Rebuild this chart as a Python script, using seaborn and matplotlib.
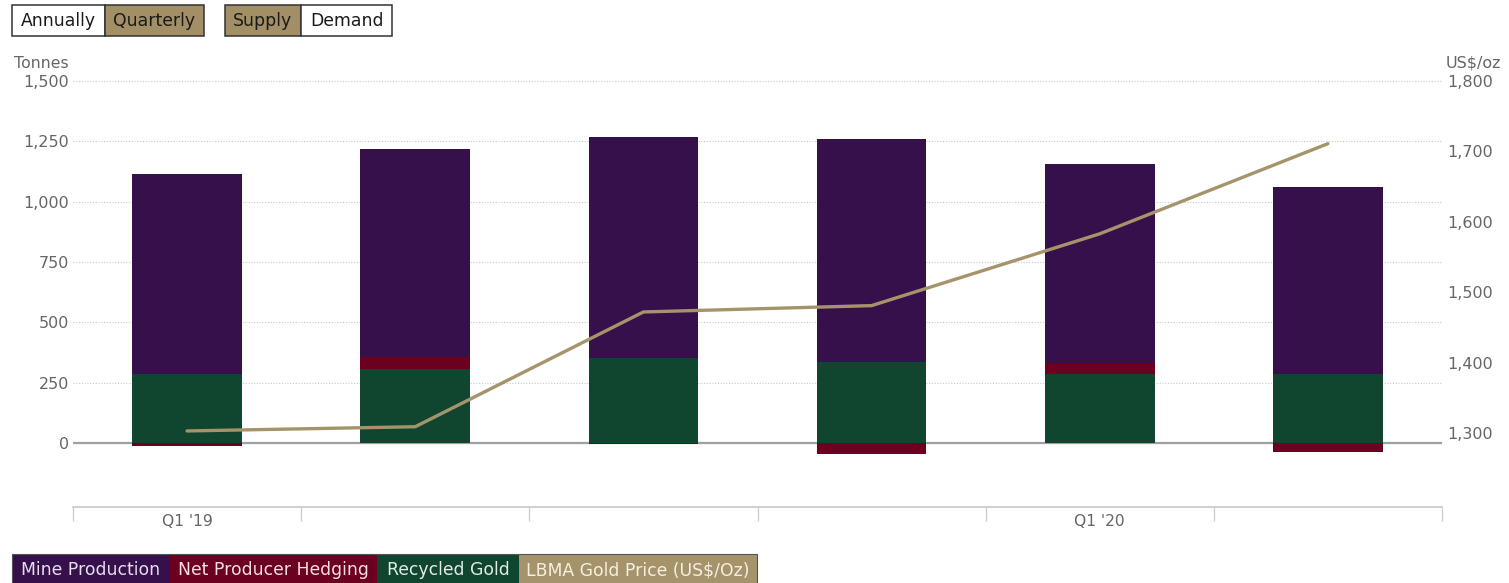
import numpy as np
import pandas as pd
import matplotlib
matplotlib.use("Agg")
import matplotlib.pyplot as plt
from matplotlib.patches import Rectangle
from matplotlib.transforms import Affine2D
from matplotlib.ticker import FixedLocator, FuncFormatter
import seaborn as sns

# Quarterly gold supply (tonnes) and LBMA gold price (US$/oz)
quarters = ["Q1 '19", "Q2 '19", "Q3 '19", "Q4 '19", "Q1 '20", "Q2 '20"]
mine_production = [830, 862, 916, 926, 826, 776]
net_hedging = [-12, 50, -5, -45, 45, -36]
recycled_gold = [286, 307, 352, 334, 285, 285]
gold_price = [1303, 1309, 1472, 1481, 1583, 1711]

left_ticks = [0, 250, 500, 750, 1000, 1250, 1500]
right_ticks = [1300, 1400, 1500, 1600, 1700, 1800]

C_MINE = "#36104a"
C_HEDGE = "#6b0020"
C_RECY = "#10452f"
C_GOLD = "#a5946b"
C_BTN = "#a28f65"
C_TXT = "#666666"

sns.set_theme(style="white")
plt.rcParams["font.family"] = ["DejaVu Sans"]

W, H = 1509, 583
fig = plt.figure(figsize=(W / 100, H / 100), dpi=100)
fig.patch.set_facecolor("white")

# pixel-space transform (origin top-left, y downwards)
pix = Affine2D().scale(1 / W, -1 / H).translate(0, 1) + fig.transFigure

x0, x1, ytop, ybot = 73, 1442, 81, 507
ax = fig.add_axes([x0 / W, 1 - ybot / H, (x1 - x0) / W, (ybot - ytop) / H])

df = pd.DataFrame({
    "quarter": quarters,
    "mine": mine_production,
    "hedge": net_hedging,
    "recycled": recycled_gold,
    "price": gold_price,
})
df["hedge_pos"] = df["hedge"].clip(lower=0)
df["hedge_neg"] = df["hedge"].clip(upper=0)
df["top_total"] = df["recycled"] + df["hedge_pos"] + df["mine"]
df["mid_total"] = df["recycled"] + df["hedge_pos"]

bar_kw = dict(x="quarter", order=quarters, width=0.48, saturation=1,
              errorbar=None, linewidth=0, edgecolor="none", ax=ax, zorder=2)
sns.barplot(data=df, y="top_total", color=C_MINE, **bar_kw)
sns.barplot(data=df, y="mid_total", color=C_HEDGE, **bar_kw)
sns.barplot(data=df, y="recycled", color=C_RECY, **bar_kw)
sns.barplot(data=df, y="hedge_neg", color=C_HEDGE, **bar_kw)

ax.set_xlim(-0.5, len(quarters) - 0.5)
ax.set_ylim(-265, 1500)
ax.set_xlabel("")
ax.set_ylabel("")

# left axis: dotted grid, solid zero line
ax.set_yticks(left_ticks)
ax.yaxis.set_major_formatter(FuncFormatter(lambda v, p: f"{int(v):,}"))
ax.set_axisbelow(True)
ax.yaxis.grid(True, linestyle=(0, (1, 1.5)), color="#c8c8c8", linewidth=0.8)
ax.axhline(0, color="#a0a0a0", linewidth=1.6, zorder=1.5)
ax.tick_params(axis="y", length=0, pad=3, labelsize=11.5, labelcolor=C_TXT)

# x axis: labels at Q1 only, ticks at category boundaries
ax.set_xticks(np.arange(len(quarters)))
ax.set_xticklabels([q if q.startswith("Q1") else "" for q in quarters])
ax.xaxis.set_minor_locator(FixedLocator(np.arange(-0.5, len(quarters), 1.0)))
ax.tick_params(axis="x", which="major", bottom=False, length=0, pad=5,
               labelsize=11.2, labelcolor=C_TXT)
ax.tick_params(axis="x", which="minor", bottom=True, length=10, width=0.9,
               color="#cccccc", direction="out")
for s in ["top", "left", "right"]:
    ax.spines[s].set_visible(False)
ax.spines["bottom"].set_color("#cccccc")
ax.spines["bottom"].set_linewidth(1.3)

# right axis: gold price line
ax2 = ax.twinx()
sns.lineplot(x=np.arange(len(quarters)), y=df["price"], color=C_GOLD,
             linewidth=2.4, ax=ax2, zorder=5)
ax2.set_xlim(-0.5, len(quarters) - 0.5)
ax2.set_ylim(1195, 1800)
ax2.set_yticks(right_ticks)
ax2.yaxis.set_major_formatter(FuncFormatter(lambda v, p: f"{int(v):,}"))
ax2.tick_params(axis="y", length=0, pad=4, labelsize=11.5, labelcolor=C_TXT)
ax2.set_ylabel("")
for s in ax2.spines.values():
    s.set_visible(False)
ax2.grid(False)

# axis titles
fig.text(69, 63, "Tonnes", transform=pix, ha="right", va="center",
         fontsize=11.3, color=C_TXT)
fig.text(1446, 63, "US$/oz", transform=pix, ha="left", va="center",
         fontsize=11.5, color=C_TXT)

# period / view selector buttons
buttons = [
    (12, 105, "Annually", "white"),
    (105, 204, "Quarterly", C_BTN),
    (225, 301, "Supply", C_BTN),
    (301, 392, "Demand", "white"),
]
for bx0, bx1, label, fc in buttons:
    fig.add_artist(Rectangle((bx0, 5), bx1 - bx0, 31, transform=pix,
                             facecolor=fc, edgecolor="#333333", linewidth=1.1))
    fig.text((bx0 + bx1) / 2, 20.5, label, transform=pix, ha="center",
             va="center", fontsize=12.4, color="#1a1a1a")

# legend strip
legend_items = [
    (12, 170, "Mine Production", C_MINE, "#e6ddef"),
    (170, 377, "Net Producer Hedging", C_HEDGE, "#f5dfe3"),
    (377, 519, "Recycled Gold", C_RECY, "#e0ece6"),
    (519, 757, "LBMA Gold Price (US$/Oz)", C_GOLD, "#f6efdf"),
]
for lx0, lx1, label, fc, tc in legend_items:
    fig.add_artist(Rectangle((lx0, 554), lx1 - lx0, 40, transform=pix,
                             facecolor=fc, edgecolor="none"))
    fig.text((lx0 + lx1) / 2, 570, label, transform=pix, ha="center",
             va="center", fontsize=12.4, color=tc)
fig.add_artist(Rectangle((12, 554), 757 - 12, 40, transform=pix,
                         facecolor="none", edgecolor="#555555", linewidth=0.8))

fig.savefig("out.png", dpi=100, facecolor="white")
